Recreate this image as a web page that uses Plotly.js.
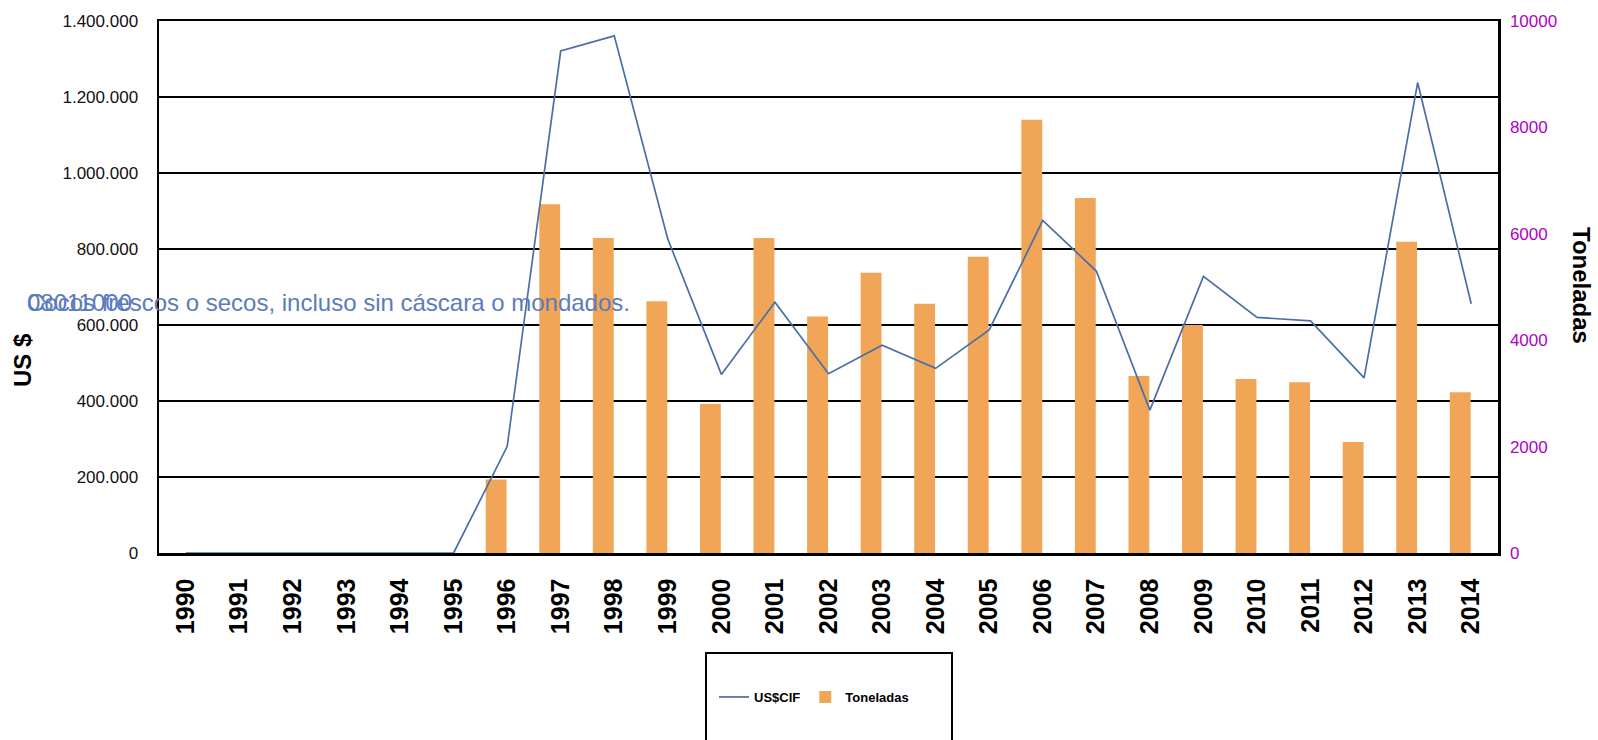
<!DOCTYPE html>
<html>
<head>
<meta charset="utf-8">
<script src="https://cdn.plot.ly/plotly-3.0.1.min.js"></script>
<style>html,body{margin:0;padding:0;background:#fff;}#chart{width:1598px;height:740px;}</style>
</head>
<body>
<div id="chart"></div>
<script>
// ---- data ----
const years = ["1990","1991","1992","1993","1994","1995","1996","1997","1998","1999","2000","2001","2002","2003","2004","2005","2006","2007","2008","2009","2010","2011","2012","2013","2014"];
const usCif = [0,0,0,0,0,0,280000,1321000,1361000,826000,470000,660000,472000,547000,486000,587000,875000,742000,376000,728000,620000,611000,461000,1238000,656000];
const toneladas = [0,0,0,0,0,0,1381,6555,5919,4733,2802,5919,4444,5268,4686,5570,8143,6675,3325,4284,3271,3211,2085,5851,3023];
const seriesNames = ["US$CIF","Toneladas"];
const productCode = "08011000";
const productName = "Cocos frescos o secos, incluso sin cáscara o mondados.";
const leftTitle = "US $";
const rightTitle = "Toneladas";

// ---- geometry helpers (pixels -> paper) ----
const W = 1598, H = 740;
const L = 159, R = 1498, T = 21, B = 553;
const px = x => (x - L) / (R - L);
const py = y => (B - y) / (B - T);

const sans = "Liberation Sans, Arial, sans-serif";

const traces = [
  {
    type: "bar",
    name: seriesNames[1],
    x: years,
    y: toneladas,
    yaxis: "y",
    marker: {color: "#f0a656", line: {width: 0}},
    width: 0.39,
    offset: -0.4
  },
  {
    type: "scatter",
    mode: "lines",
    name: seriesNames[0],
    x: years,
    y: usCif,
    yaxis: "y2",
    line: {color: "#4a6fa8", width: 1.7}
  }
];

const layout = {
  width: W, height: H,
  margin: {l: L, r: W - R, t: T, b: H - B, pad: 0},
  paper_bgcolor: "#ffffff",
  plot_bgcolor: "#ffffff",
  separators: ",.",
  font: {family: sans, color: "#000"},
  showlegend: true,
  legend: {
    orientation: "h",
    x: px(714), xanchor: "left",
    y: py(697), yanchor: "middle",
    bgcolor: "rgba(0,0,0,0)",
    borderwidth: 0,
    traceorder: "reversed",
    itemwidth: 30,
    font: {family: sans, size: 13, weight: "bold", color: "#000"}
  },
  xaxis: {
    type: "category",
    categoryorder: "array",
    categoryarray: years,
    tickangle: -90,
    ticks: "",
    ticklabelstandoff: 13,
    tickfont: {family: sans, size: 25, weight: "bold", color: "#000"},
    showline: true, linecolor: "#000", linewidth: 2.5, mirror: true,
    showgrid: false, zeroline: false,
    fixedrange: true
  },
  yaxis: {
    side: "right",
    range: [0, 10000],
    dtick: 2000,
    tickformat: "d",
    ticks: "",
    ticklabelstandoff: 6,
    tickfont: {family: sans, size: 17, color: "#b000c8"},
    showgrid: false, zeroline: false,
    showline: true, linecolor: "#000", linewidth: 2.5,
    fixedrange: true
  },
  yaxis2: {
    overlaying: "y",
    side: "left",
    range: [0, 1400000],
    dtick: 200000,
    tickformat: ",.0f",
    ticks: "",
    ticklabelstandoff: 15,
    tickfont: {family: sans, size: 17, color: "#111"},
    showgrid: true, gridcolor: "#000", gridwidth: 2.5,
    zeroline: true, zerolinecolor: "#000", zerolinewidth: 2.5,
    showline: true, linecolor: "#000", linewidth: 2.5,
    fixedrange: true
  },
  shapes: [
    {type: "rect", xref: "paper", yref: "paper",
     x0: px(706), x1: px(952), y0: py(653), y1: py(770),
     line: {color: "#000", width: 2}, fillcolor: "rgba(0,0,0,0)", layer: "below"}
  ],
  annotations: [
    {text: productName, xref: "paper", yref: "paper", x: px(25), y: py(302),
     xanchor: "left", yanchor: "middle", showarrow: false,
     font: {family: sans, size: 24, color: "#5b7bbd"}},
    {text: productCode, xref: "paper", yref: "paper", x: px(25), y: py(302),
     xanchor: "left", yanchor: "middle", showarrow: false,
     font: {family: sans, size: 24, color: "#5b7bbd"}},
    {text: leftTitle, xref: "paper", yref: "paper", x: px(22), y: py(360),
     xanchor: "center", yanchor: "middle", showarrow: false, textangle: -90,
     font: {family: sans, size: 24, weight: "bold", color: "#000"}},
    {text: rightTitle, xref: "paper", yref: "paper", x: px(1582), y: py(285),
     xanchor: "center", yanchor: "middle", showarrow: false, textangle: 90,
     font: {family: sans, size: 24, weight: "bold", color: "#000"}}
  ]
};

Plotly.newPlot("chart", traces, layout, {staticPlot: true, displayModeBar: false});
</script>
</body>
</html>
